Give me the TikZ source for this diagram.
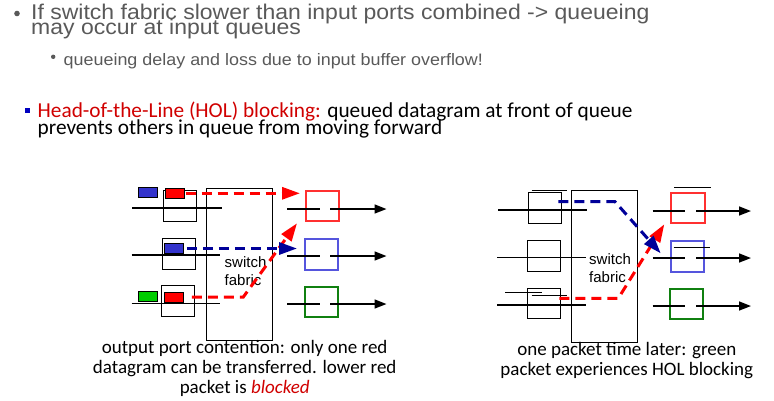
\documentclass[tikz,border=0pt]{standalone}
\usepackage{fontspec}
\setmainfont{Liberation Sans}
\newfontfamily\widesans[FakeStretch=1.08]{Liberation Sans}
\newfontfamily\calibri{Carlito}
\usetikzlibrary{arrows.meta}

\definecolor{txtgray}{HTML}{595959}
\definecolor{holred}{HTML}{D00000}
\definecolor{bulletblue}{HTML}{0000C0}
\definecolor{pktblue}{HTML}{3333CC}
\definecolor{pktred}{HTML}{FF0000}
\definecolor{pktgreen}{HTML}{00CC00}
\definecolor{outred}{HTML}{FF3030}
\definecolor{outblue}{HTML}{5555DD}
\definecolor{outgreen}{HTML}{108010}
\definecolor{flowred}{HTML}{FF0000}
\definecolor{flowblue}{HTML}{000099}

\begin{document}
\begin{tikzpicture}[x=1pt,y=-1pt,
  qbox/.style={draw=black, line width=0.9pt, minimum width=33pt, minimum height=31pt, inner sep=0pt},
  obox/.style={line width=2pt, minimum width=33.5pt, minimum height=30.5pt, inner sep=0pt},
  pkt/.style={draw=black, line width=0.8pt, minimum width=19pt, minimum height=10pt, inner sep=0pt},
  fabric/.style={draw=black, line width=0.9pt, minimum width=65.8pt, minimum height=151.5pt, inner sep=0pt},
  wire/.style={line width=1.6pt, black},
  outwire/.style={wire, -{Triangle[length=12pt,width=9pt]}},
  thinline/.style={line width=0.9pt, black},
  flow/.style={line width=3pt, dash pattern=on 10pt off 6pt, -{Triangle[length=18pt,width=12pt]}},
  lbl/.style={font=\fontsize{15}{18}\selectfont, anchor=base west, inner sep=0pt},
  headtext/.style={font=\widesans\fontsize{21.3}{24}\selectfont, text=txtgray, anchor=base west, inner sep=0pt},
  subtext/.style={font=\widesans\fontsize{16.6}{20}\selectfont, text=txtgray, anchor=base west, inner sep=0pt},
  holtext/.style={font=\calibri\fontsize{21.3}{24}\selectfont, anchor=base west, inner sep=0pt},
  captext/.style={font=\calibri\fontsize{19}{22}\selectfont, anchor=base, inner sep=0pt},
  dot/.style={circle, fill=#1, inner sep=0pt},
]
\useasboundingbox (0,0) rectangle (774,400);

% ---- bullet text ----
\node[dot=txtgray, minimum size=5.6pt] (b1) at (17,13.5) {};
\node[headtext] (t1) at (31,19.5) {If switch fabric slower than input ports combined -> queueing};
\node[headtext] (t2) at (31,34.5) {may occur at input queues};
\node[dot=txtgray, minimum size=4.4pt] (b2) at (53.2,56.8) {};
\node[subtext] (t3) at (63.5,65) {queueing delay and loss due to input buffer overflow!};

\node[fill=bulletblue, minimum size=5pt, inner sep=0pt] (b3) at (27.5,110.5) {};
\node[holtext] (h1) at (37.5,117.5) {\textcolor{holred}{Head-of-the-Line (HOL) blocking:} queued datagram at front of queue};
\node[holtext] (h2) at (37.5,134.5) {prevents others in queue from moving forward};

% ================= left switch =================
\node[fabric] (Lfab) at (239.4,264.25) {};
\node[lbl] (Lsw) at (224.5,267) {switch};
\node[lbl] (Lfb) at (224.5,285) {fabric};

% input lines
\coordinate (LinA1) at (132,208);   \coordinate (LinA2) at (222,208);
\coordinate (LinB1) at (131.7,255); \coordinate (LinB2) at (220,255);
\coordinate (LinC1) at (131.7,303.3); \coordinate (LinC2) at (220,303.3);
\draw[wire] (LinA1) -- (LinA2);
\draw[wire] (LinB1) -- (LinB2);
\draw[wire] (LinC1) -- (LinC2);

% input queues
\node[qbox] (LqA) at (179.5,205.5) {};
\node[qbox] (LqB) at (178.8,253.8) {};
\node[qbox] (LqC) at (178.3,300.7) {};

% packets
\node[pkt, fill=pktblue] (LpA) at (147.8,192.3) {};
\node[pkt, fill=pktred]  (LpB) at (174.8,193.3) {};
\node[pkt, fill=pktblue] (LpC) at (174,248.5) {};
\node[pkt, fill=pktgreen] (LpD) at (147.8,296.7) {};
\node[pkt, fill=pktred]  (LpE) at (174,297) {};

% output ports
\node[obox, draw=outred]   (LoA) at (322.5,206.2) {};
\node[obox, draw=outblue]  (LoB) at (321.5,254.5) {};
\node[obox, draw=outgreen] (LoC) at (321.5,301.8) {};
\foreach \n/\y in {A/209,B/256,C/304}{
  \coordinate (Lo\n1) at (287,\y); \coordinate (Lo\n2) at (320,\y);
  \coordinate (Lo\n3) at (330,\y); \coordinate (Lo\n4) at (386.5,\y);
  \draw[wire] (Lo\n1) -- (Lo\n2);
  \draw[outwire] (Lo\n3) -- (Lo\n4);
}

% packet flows through the fabric
\coordinate (LtipA) at (300,192.3);
\coordinate (LtipB) at (297,249.5);
\coordinate (LbendE) at (243.3,297);
\coordinate (LtipE) at (297,223.3);
\draw[flow, flowred] ([xshift=1pt]LpB.east) -- (LpB.east -| LtipA);
\draw[flow, flowred] ([xshift=8pt]LpE.east) -- (LbendE) -- (LtipE);
\draw[flow, flowblue] ([xshift=3pt]LpC.east) -- (LpC.east -| LtipB);

\node[captext] (Lcap1) at (244.7,353) {output port contention: only one red};
\node[captext] (Lcap2) at (244.7,373) {datagram can be transferred. lower red};
\node[captext] (Lcap3) at (244.7,393) {packet is \textcolor{holred}{\itshape blocked}};

% ================= right switch =================
\node[fabric, minimum height=151.6pt] (Rfab) at (604.4,266.5) {};
\node[lbl] (Rsw) at (589,264.5) {switch};
\node[lbl] (Rfb) at (589,282) {fabric};

\coordinate (RinA1) at (498.3,210);   \coordinate (RinA2) at (586.7,210);
\coordinate (RinB1) at (497.3,257.3); \coordinate (RinB2) at (585.7,257.3);
\coordinate (RinC1) at (497.3,305);   \coordinate (RinC2) at (585.7,305);
\draw[wire] (RinA1) -- (RinA2);
\draw[wire] (RinB1) -- (RinB2);
\draw[wire] (RinC1) -- (RinC2);

\node[qbox] (RqA) at (544.8,207.8) {};
\node[qbox] (RqB) at (543.8,256) {};
\node[qbox, minimum height=29.7pt] (RqC) at (543.8,303.2) {};

% leftover packet outlines
\coordinate (RsA1) at (531.7,190.7); \coordinate (RsA2) at (567.3,190.7);
\coordinate (RsC1) at (505,292.7);   \coordinate (RsC2) at (541.7,292.7);
\coordinate (RsD1) at (531.7,295.7); \coordinate (RsD2) at (567.3,295.7);
\draw[thinline] (RsA1) -- (RsA2);
\draw[thinline] (RsC1) -- (RsC2);
\draw[thinline] (RsD1) -- (RsD2);

\node[obox, draw=outred]   (RoA) at (688,208) {};
\node[obox, draw=outblue]  (RoB) at (687.4,256.4) {};
\node[obox, draw=outgreen] (RoC) at (686.7,304) {};
\coordinate (RsE1) at (674.3,187.3); \coordinate (RsE2) at (711.3,187.3);
\coordinate (RsF1) at (673.7,247.3); \coordinate (RsF2) at (710,247.3);
\draw[thinline] (RsE1) -- (RsE2);
\draw[thinline] (RsF1) -- (RsF2);
\foreach \n/\y in {A/211,B/258,C/306}{
  \coordinate (Ro\n1) at (652.5,\y); \coordinate (Ro\n2) at (685,\y);
  \coordinate (Ro\n3) at (696,\y); \coordinate (Ro\n4) at (751,\y);
  \draw[wire] (Ro\n1) -- (Ro\n2);
  \draw[outwire] (Ro\n3) -- (Ro\n4);
}

\coordinate (RstartC) at (559.3,298.3);
\coordinate (RbendC) at (618.3,298.3);
\coordinate (RtipC) at (664.3,224.3);
\coordinate (RstartA) at (558.3,201.7);
\coordinate (RbendA) at (615,201.7);
\coordinate (RtipA) at (660.7,253.3);
\draw[flow, flowred] (RstartC) -- (RbendC) -- (RtipC);
\draw[flow, flowblue] (RstartA) -- (RbendA) -- (RtipA);

\node[captext] (Rcap1) at (626.8,355) {one packet time later: green};
\node[captext] (Rcap2) at (626.8,375) {packet experiences HOL blocking};
\end{tikzpicture}
\end{document}
